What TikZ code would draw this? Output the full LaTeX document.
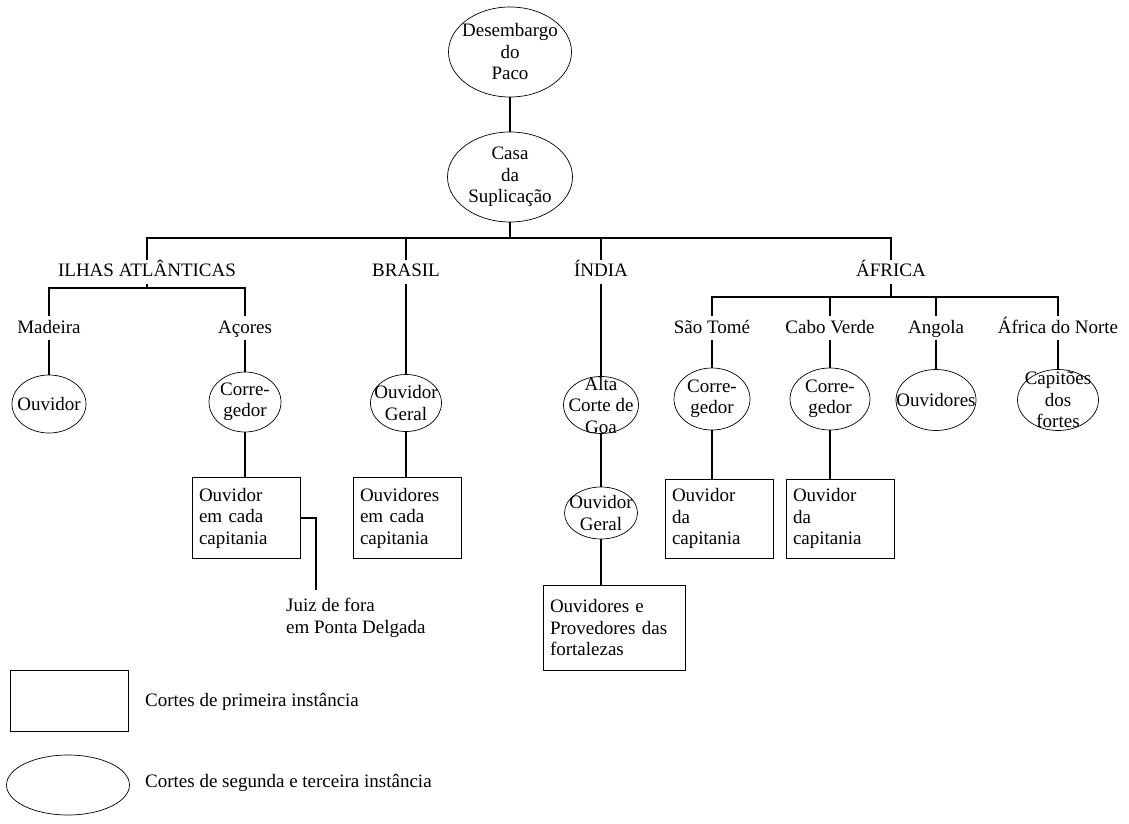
\documentclass[tikz,border=0pt]{standalone}
\usepackage{fontspec}
\setmainfont{Liberation Serif}
\usetikzlibrary{shapes.geometric}

\tikzset{
  segunda/.style={draw, ellipse, line width=0.7pt, inner sep=0pt},
  primeira/.style={draw, rectangle, line width=0.7pt, inner sep=0pt,
    minimum width=108pt, minimum height=81pt, text width=94pt, align=left},
  regiao/.style={inner sep=0pt, outer ysep=4pt, text height=13pt, text depth=3pt},
  liga/.style={line width=1.2pt},
  dentro/.style={align=center, inner sep=0pt}
}

\begin{document}
\begin{tikzpicture}[x=1pt, y=-1pt, font=\fontsize{19}{21.5}\selectfont]
  \useasboundingbox (0,0) rectangle (1129,824);
  % tribunais superiores
  \node[segunda, minimum width=123pt, minimum height=90pt,
    label={[dentro]center:Desembargo\\do\\Paco}] (paco) at (510,52) {};
  \node[segunda, minimum width=125pt, minimum height=90pt,
    label={[dentro]center:Casa\\da\\Suplicação}] (casa) at (510,177) {};
  \draw[liga] (paco) -- (casa);

  % regioes
  \coordinate (barra) at (510,238);
  \node[regiao] (ilhas) at (147,271.5) {ILHAS ATLÂNTICAS};
  \node[regiao] (brasil) at (406,271.5) {BRASIL};
  \node[regiao] (india) at (601,271.5) {ÍNDIA};
  \node[regiao] (africa) at (891,271.5) {ÁFRICA};
  \draw[liga] (casa) -- (barra);
  \draw[liga] (ilhas.north) |- (barra) -| (africa.north);
  \foreach \r in {brasil,india}
    \draw[liga] (\r.north) -- (\r.north |- barra);

  % ilhas atlanticas
  \coordinate (ilbarra) at (147,288);
  \node[regiao] (madeira) at (49,328) {Madeira};
  \node[regiao] (acores) at (245,328) {Açores};
  \draw[liga] (ilhas.south) -- (ilbarra);
  \draw[liga] (madeira.north) |- (ilbarra) -| (acores.north);
  \node[segunda, minimum width=74pt, minimum height=58pt,
    label={[dentro]center:Ouvidor}] (madov) at (49,404) {};
  \node[segunda, minimum width=72pt, minimum height=60pt,
    label={[dentro]center:Corre-\\gedor}] (accor) at (245,402) {};
  \node[primeira] (acbox) at (246,518) {Ouvidor\\em cada\\capitania};
  \node[inner sep=0pt, align=left, anchor=north west] (juiz) at (286,598)
    {Juiz de fora\\em Ponta Delgada};
  \draw[liga] (madeira) -- (madov);
  \draw[liga] (acores) -- (accor);
  \draw[liga] (accor) -- (accor |- acbox.north);
  \draw[liga] (acbox.east) -| ([xshift=30pt, yshift=8pt]juiz.north west);

  % brasil
  \node[segunda, minimum width=71pt, minimum height=57pt,
    label={[dentro]center:Ouvidor\\Geral}] (brov) at (406,403) {};
  \node[primeira] (brbox) at (407,518) {Ouvidores\\em cada\\capitania};
  \draw[liga] (brasil) -- (brov);
  \draw[liga] (brov) -- (brov |- brbox.north);

  % india
  \node[segunda, minimum width=75pt, minimum height=57pt,
    label={[dentro]center:Alta\\Corte de\\Goa}] (alta) at (601,405) {};
  \node[segunda, minimum width=73pt, minimum height=52pt,
    label={[dentro]center:Ouvidor\\Geral}] (ogoa) at (601,513) {};
  \node[primeira, minimum width=142pt, minimum height=85pt, text width=128pt]
    (indbox) at (614,627.5) {Ouvidores e\\Provedores das\\fortalezas};
  \draw[liga] (india) -- (alta);
  \draw[liga] (alta) -- (ogoa);
  \draw[liga] (ogoa) -- (ogoa |- indbox.north);

  % africa
  \coordinate (afbarra) at (891,297);
  \node[regiao] (saotome) at (712,328) {São Tomé};
  \node[regiao] (caboverde) at (830,328) {Cabo Verde};
  \node[regiao] (angola) at (936,328) {Angola};
  \node[regiao] (norte) at (1058,328) {África do Norte};
  \draw[liga] (africa.south) -- (afbarra);
  \draw[liga] (saotome.north) |- (afbarra) -| (norte.north);
  \foreach \p in {caboverde,angola}
    \draw[liga] (\p.north) -- (\p.north |- afbarra);
  \node[segunda, minimum width=76pt, minimum height=62pt,
    label={[dentro]center:Corre-\\gedor}] (stcor) at (712,399) {};
  \node[segunda, minimum width=80pt, minimum height=62pt,
    label={[dentro]center:Corre-\\gedor}] (cvcor) at (830,399) {};
  \node[segunda, minimum width=80pt, minimum height=61pt,
    label={[dentro]center:Ouvidores}] (angov) at (936,400) {};
  \node[segunda, minimum width=81pt, minimum height=61pt,
    label={[dentro]center:Capitões\\dos\\fortes}] (norcap) at (1058,400) {};
  \node[primeira, minimum height=79pt] (stbox) at (719,518.5) {Ouvidor\\da\\capitania};
  \node[primeira, minimum height=79pt] (cvbox) at (840,518.5) {Ouvidor\\da\\capitania};
  \foreach \p/\c in {saotome/stcor,caboverde/cvcor,angola/angov,norte/norcap}
    \draw[liga] (\p) -- (\c);
  \draw[liga] (stcor) -- (stcor |- stbox.north);
  \draw[liga] (cvcor) -- (cvcor |- cvbox.north);

  % legenda
  \node[draw, line width=0.7pt, inner sep=0pt, minimum width=118pt,
    minimum height=61pt] (legret) at (69,700.5) {};
  \node[segunda, minimum width=123pt, minimum height=60pt] (legoval) at (68,785) {};
  \node[inner sep=0pt, anchor=west] (legtxt1) at (145,702) {Cortes de primeira instância};
  \node[inner sep=0pt, anchor=west] (legtxt2) at (145,783) {Cortes de segunda e terceira instância};
\end{tikzpicture}
\end{document}
